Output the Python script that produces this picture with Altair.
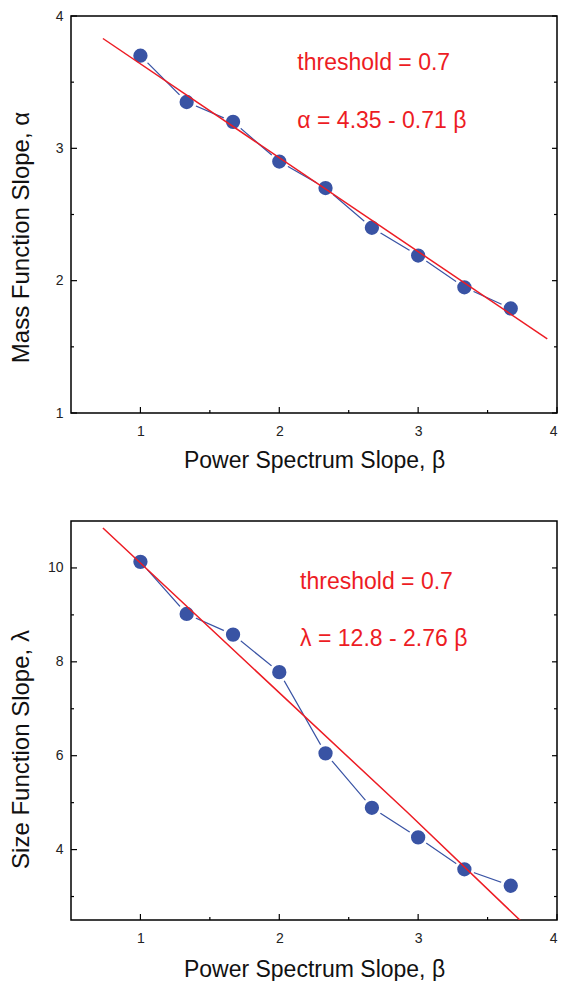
import altair as alt
import pandas as pd

# ---- data ----
beta = [1.0, 1.333, 1.667, 2.0, 2.333, 2.667, 3.0, 3.333, 3.667]
alpha = [3.70, 3.35, 3.20, 2.90, 2.70, 2.40, 2.19, 1.95, 1.79]
lam = [10.13, 9.02, 8.58, 7.78, 6.05, 4.89, 4.26, 3.58, 3.23]

fit_a_x = [0.73, 3.93]
fit_a_y = [3.83, 1.56]
fit_l_x = [0.73, 2.92, 3.75]
fit_l_y = [10.85, 4.80, 2.45]

x_major = [1, 2, 3, 4]
x_minor = [1.5, 2.5, 3.5]
ya_major = [1, 2, 3, 4]
ya_minor = [1.5, 2.5, 3.5]
yl_major = [4, 6, 8, 10]
yl_minor = [3, 5, 7, 9]

ann_a_text = ["threshold = 0.7", "α = 4.35 - 0.71 β"]
ann_a_x = [2.13, 2.13]
ann_a_y = [3.59, 3.15]
ann_l_text = ["threshold = 0.7", "λ = 12.8 - 2.76 β"]
ann_l_x = [2.15, 2.15]
ann_l_y = [9.56, 8.34]

BLUE = "#3953a4"
RED = "#ed1c24"
FONT = "Liberation Sans"


def panel(yvals, fx, fy, ann_t, ann_x, ann_y, ydom, ymaj, ymin, ytitle,
          ytx, yty, xty, W, H):
    xs = alt.Scale(domain=[0.5, 4], nice=False, zero=False)
    ys = alt.Scale(domain=ydom, nice=False, zero=False)
    pts = pd.DataFrame({"b": beta, "v": yvals})
    fit = pd.DataFrame({"b": fx, "v": fy})
    ann = pd.DataFrame({"b": ann_x, "v": ann_y, "t": ann_t})

    xaxis = alt.Axis(values=x_major, format="d", title="Power Spectrum Slope, β",
                     ticks=False, domain=False, grid=False, labelPadding=11,
                     titleX=W / 2, titleY=xty, titleAlign="center",
                     titleBaseline="alphabetic", titleFontSize=23)
    yaxis = alt.Axis(values=ymaj, format="d", title=ytitle,
                     ticks=False, domain=False, grid=False, labelPadding=8,
                     titleX=ytx, titleY=yty, titleAngle=270, titleAlign="center",
                     titleBaseline="alphabetic", titleFontSize=24)

    def X(f):
        return alt.X(f, scale=xs, axis=xaxis)

    def Y(f):
        return alt.Y(f, scale=ys, axis=yaxis)

    line = alt.Chart(pts).mark_line(color=BLUE, strokeWidth=1.2).encode(
        x=X("b:Q"), y=Y("v:Q"))
    dots = alt.Chart(pts).mark_point(
        shape="circle", filled=True, size=299, fill=BLUE, stroke="white",
        strokeWidth=3, opacity=1, fillOpacity=1, strokeOpacity=1
    ).encode(x=X("b:Q"), y=Y("v:Q"))
    red = alt.Chart(fit).mark_line(color=RED, strokeWidth=1.5, clip=True).encode(
        x=X("b:Q"), y=Y("v:Q"))
    txt = alt.Chart(ann).mark_text(
        align="left", baseline="alphabetic", font=FONT, fontSize=23, color=RED
    ).encode(x=X("b:Q"), y=Y("v:Q"), text="t:N")

    def xticks(vals, ln):
        return alt.Chart(pd.DataFrame({"b": vals})).mark_rule(
            color="black", strokeWidth=1.2).encode(
            x=X("b:Q"), y=alt.value(H), y2=alt.value(H - ln))

    def yticks(vals, ln, right=False):
        x0 = W if right else 0
        x1 = W - ln if right else ln
        return alt.Chart(pd.DataFrame({"v": vals})).mark_rule(
            color="black", strokeWidth=1.2).encode(
            y=Y("v:Q"), x=alt.value(x0), x2=alt.value(x1))

    return alt.layer(
        line, dots, red,
        xticks(x_major, 6), xticks(x_minor, 3),
        yticks(ymaj, 6), yticks(ymin, 3),
        yticks(ymaj, 5, True), yticks(ymin, 3, True),
        txt,
    ).properties(width=W, height=H)


top = panel(alpha, fit_a_x, fit_a_y, ann_a_text, ann_a_x, ann_a_y, [1, 4],
            ya_major, ya_minor, "Mass Function Slope, α", -43, 221, 54, 486, 397)
bot = panel(lam, fit_l_x, fit_l_y, ann_l_text, ann_l_x, ann_l_y, [2.5, 11],
            yl_major, yl_minor, "Size Function Slope, λ", -43, 228, 56, 486, 399)

chart = alt.vconcat(top, bot, spacing=47).properties(
    padding={"left": 0, "top": 0, "right": 0, "bottom": 0},
    background="white",
).configure_view(stroke="black", strokeWidth=1.5).configure_axis(
    labelFont=FONT, labelFontSize=14, labelColor="#222",
    titleFont=FONT, titleFontWeight="normal", titleColor="#111",
)

chart.save("out.html", embed_options={"renderer": "svg", "actions": False})
